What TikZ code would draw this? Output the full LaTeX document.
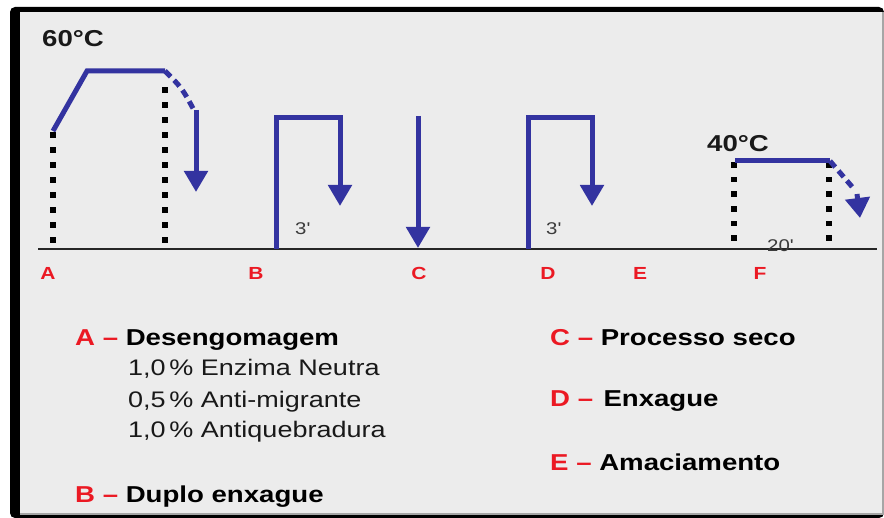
\documentclass[tikz,border=0pt]{standalone}
\usepackage{fontspec}
\setmainfont[FakeStretch=1.2]{Liberation Sans}
\usetikzlibrary{arrows.meta}
\definecolor{pblue}{RGB}{51,51,160}
\definecolor{pred}{RGB}{235,25,35}
\definecolor{bg}{RGB}{236,236,236}
\definecolor{tgray}{RGB}{60,60,60}
\begin{document}
\begin{tikzpicture}[x=1pt,y=-1pt,
  flow/.style={draw=pblue, line width=5pt, line join=miter},
  flowarrow/.style={draw=pblue, line width=5pt, -{Triangle[width=23pt,length=21pt]}},
  flowdash/.style={draw=pblue, line width=5pt, dash pattern=on 8pt off 5pt},
  axislabel/.style={text=pred, font=\fontsize{17.5}{20}\selectfont\bfseries, anchor=base, inner sep=0pt},
  temp/.style={text=black!90, font=\fontsize{23}{26}\selectfont\bfseries, anchor=base west, inner sep=0pt},
  dur/.style={text=tgray, font=\fontsize{17}{20}\selectfont, anchor=base west, inner sep=0pt},
  head/.style={text=black, font=\fontsize{23}{26}\selectfont\bfseries, anchor=base west, inner sep=0pt},
  item/.style={text=black!90, font=\fontsize{22.5}{26}\selectfont, anchor=base west, inner sep=0pt}]
\useasboundingbox (0,0) rectangle (884,518);
% frame
\fill[white] (0,0) rectangle (884,518);
\fill[black, rounded corners=5pt] (10,7) rectangle (884,518);
\fill[black!35] (20,12) rectangle (884,515);
\fill[bg] (20,12) rectangle (882,513);
% axis
\coordinate (ax0) at (38,249);
\coordinate (ax1) at (877,249);
\draw[line width=2pt, black!85] (ax0) -- (ax1);
% axis labels
\node[axislabel] (lA) at (48,280) {A};
\node[axislabel] (lB) at (256,280) {B};
\node[axislabel] (lC) at (419,280) {C};
\node[axislabel] (lD) at (548,280) {D};
\node[axislabel] (lE) at (640,280) {E};
\node[axislabel] (lF) at (760,280) {F};
% dotted columns
\foreach \k in {0,...,7} \fill ({53-2.75},{135+15*\k-2.75}) rectangle ++(5.5,5.5);
\foreach \k in {0,...,10} \fill ({165-2.75},{90+15*\k-2.75}) rectangle ++(5.5,5.5);
\foreach \k in {0,...,5} \fill ({734-2.75},{165+14.6*\k-2.75}) rectangle ++(5.5,5.5);
\foreach \k in {0,...,5} \fill ({829-2.75},{165+14.6*\k-2.75}) rectangle ++(5.5,5.5);
% A
\coordinate (a0) at (53,131);
\coordinate (a1) at (87,71);
\coordinate (a2) at (165,71);
\coordinate (a3) at (195,112);
\coordinate (a4) at (196,110);
\coordinate (a5) at (196,192);
\draw[flow] (a0) -- (a1) -- (a2);
\draw[flowdash] (a2) .. controls (182,88) .. (a3);
\draw[flowarrow] (a4) -- (a5);
\node[temp] (t60) at (42,46.5) {60°C};
% B
\coordinate (b0) at (276,249);
\coordinate (b1) at (276,118);
\coordinate (b2) at (340,118);
\coordinate (b3) at (340,206);
\draw[flow] (b0) -- (b1) -- (b2) -- ++(0,10);
\draw[flowarrow] (340,116) -- (b3);
\node[dur] (dB) at (295,235) {3\textquotesingle};
% C
\coordinate (c0) at (418,116);
\coordinate (c1) at (418,248);
\draw[flowarrow] (c0) -- (c1);
% D
\coordinate (d0) at (528,249);
\coordinate (d1) at (528,118);
\coordinate (d2) at (592,118);
\coordinate (d3) at (592,206);
\draw[flow] (d0) -- (d1) -- (d2) -- ++(0,10);
\draw[flowarrow] (592,116) -- (d3);
\node[dur] (dD) at (546,235) {3\textquotesingle};
% F
\coordinate (f0) at (735,161);
\coordinate (f1) at (830,161);
\coordinate (f2) at (854,189);
\coordinate (f3) at (857,194);
\coordinate (f4) at (860,218);
\draw[flow] (f0) -- (f1);
\draw[flowdash] (f1) -- (f2);
\draw[draw=pblue, line width=5pt, -{Triangle[width=24pt,length=20pt]}] (f3) -- (f4);
\node[temp] (t40) at (707,152) {40°C};
\node[dur] (dF) at (767,252) {20\textquotesingle};
% legend
\node[head] (gA) at (75,346) {\textcolor{pred}{A –} Desengomagem};
\node[item] (g1) at (128,376) {1,0\,\% Enzima Neutra};
\node[item] (g2) at (128,407.5) {0,5\,\% Anti-migrante};
\node[item] (g3) at (128,438) {1,0\,\% Antiquebradura};
\node[head] (gB) at (75,503) {\textcolor{pred}{B –} Duplo enxague};
\node[head] (gC) at (550,345.5) {\textcolor{pred}{C –} Processo seco};
\node[head] (gD) at (550,406.5) {\textcolor{pred}{D –}\hspace{0.45em}Enxague};
\node[head] (gE) at (550,470.5) {\textcolor{pred}{E –} Amaciamento};
\end{tikzpicture}
\end{document}
